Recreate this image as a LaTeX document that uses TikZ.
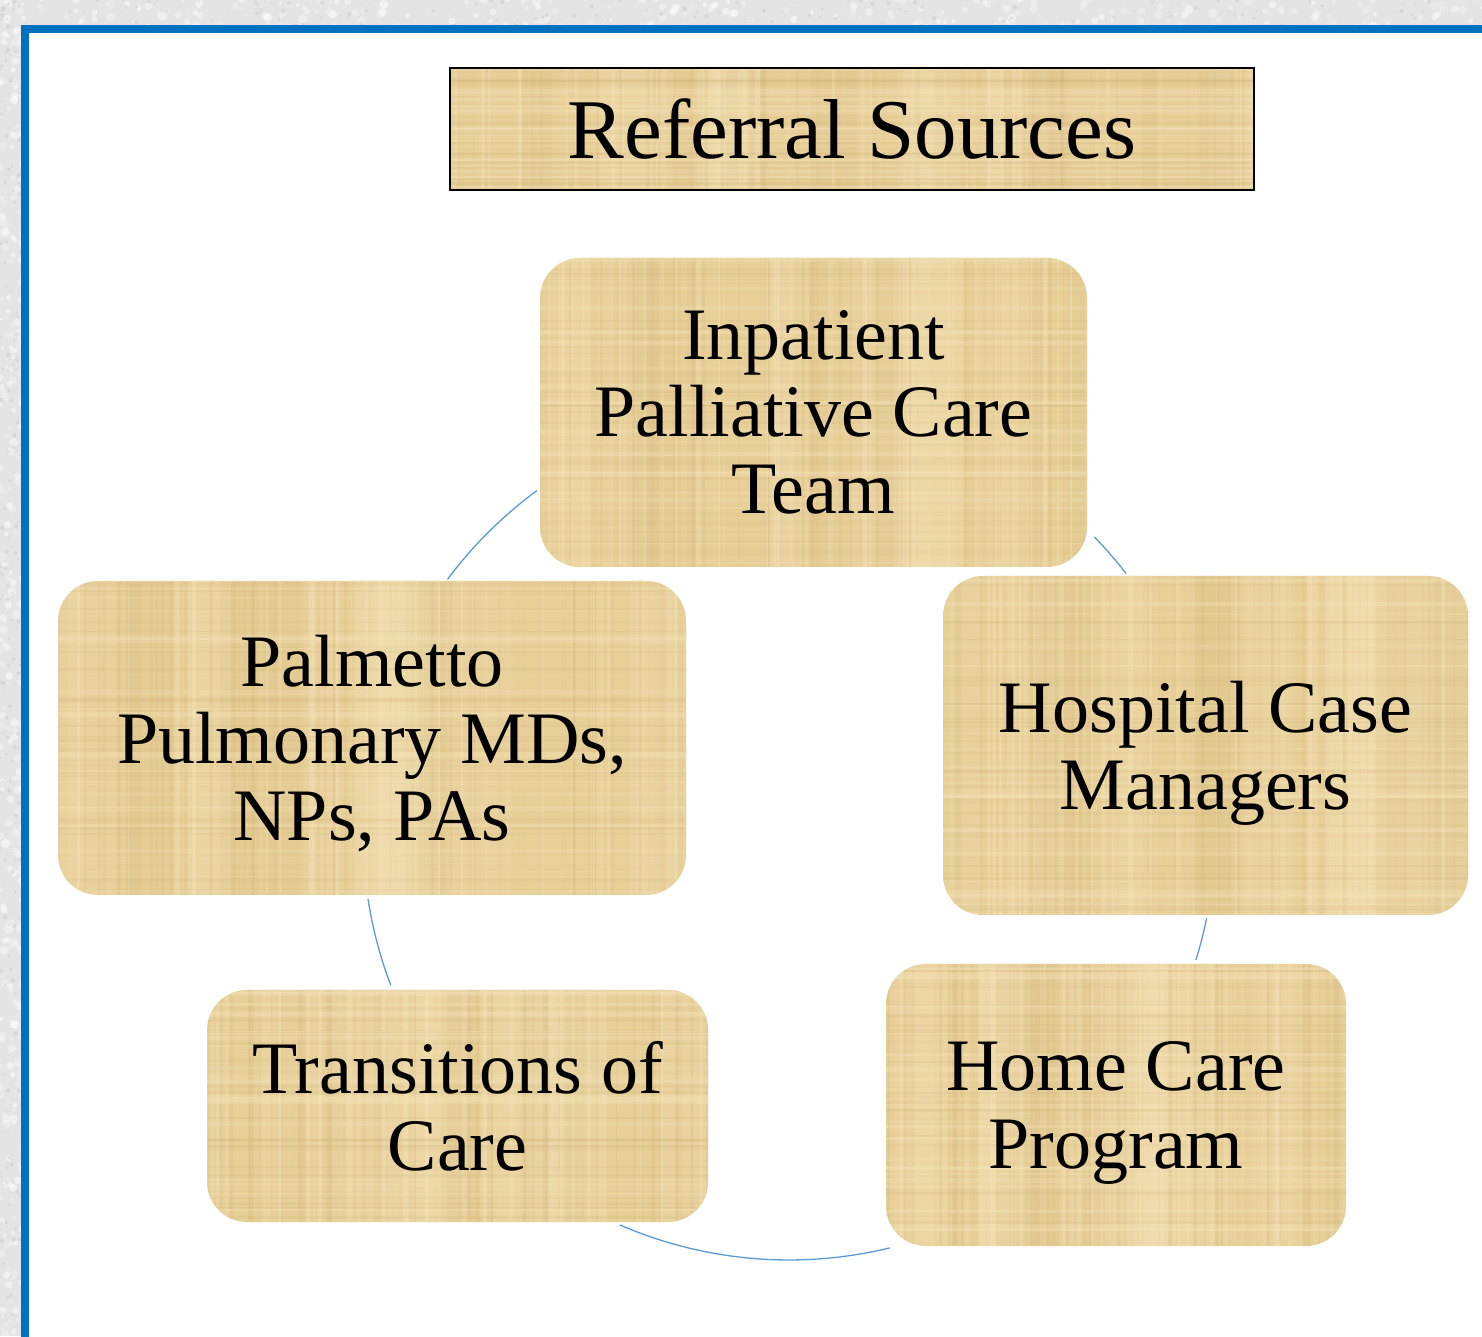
\documentclass[tikz,border=0pt]{standalone}
\usepackage{fontspec}
\setmainfont{Liberation Serif}
\usetikzlibrary{calc}

\definecolor{frameblue}{HTML}{0070C0}
\definecolor{linkblue}{HTML}{5B9BD5}
\definecolor{papyrus}{HTML}{E7CF98}
\definecolor{papdark}{HTML}{C4A262}
\definecolor{paplight}{HTML}{F7E7BE}
\definecolor{marble}{HTML}{E4E4E4}

% Random fibre strips that give the boxes a papyrus look
\newcommand{\papyrusfibres}{%
  \begin{scope}[sharp corners]
  \path (path picture bounding box.south west) coordinate (pp1)
        (path picture bounding box.north east) coordinate (pp2);
  \path (pp1 -| pp2) coordinate (pp3) (pp1 |- pp2) coordinate (pp4);
  \foreach \k in {1,...,12}{%
    \pgfmathsetmacro\papa{rnd}\pgfmathsetmacro\papw{15+55*rnd}\pgfmathsetmacro\papo{0.10+0.15*rnd}%
    \fill[paplight,opacity=\papo] ($(pp1)!\papa!(pp3)$) rectangle ++(\papw,2000);
  }
  \foreach \k in {1,...,8}{%
    \pgfmathsetmacro\papa{rnd}\pgfmathsetmacro\papw{10+40*rnd}\pgfmathsetmacro\papo{0.03+0.06*rnd}%
    \fill[papdark,opacity=\papo] ($(pp1)!\papa!(pp3)$) rectangle ++(\papw,2000);
  }
  \foreach \k in {1,...,60}{%
    \pgfmathsetmacro\papa{rnd}\pgfmathsetmacro\papw{1+3*rnd}\pgfmathsetmacro\papo{0.04+0.08*rnd}%
    \fill[papdark,opacity=\papo] ($(pp1)!\papa!(pp3)$) rectangle ++(\papw,2000);
  }
  \foreach \k in {1,...,40}{%
    \pgfmathsetmacro\papa{rnd}\pgfmathsetmacro\papw{1+4*rnd}\pgfmathsetmacro\papo{0.12+0.2*rnd}%
    \fill[paplight,opacity=\papo] ($(pp1)!\papa!(pp3)$) rectangle ++(\papw,2000);
  }
  \foreach \k in {1,...,40}{%
    \pgfmathsetmacro\papa{rnd}\pgfmathsetmacro\papw{1+3*rnd}\pgfmathsetmacro\papo{0.04+0.07*rnd}%
    \fill[papdark,opacity=\papo] ($(pp1)!\papa!(pp4)$) rectangle ++(2000,\papw);
  }
  \foreach \k in {1,...,30}{%
    \pgfmathsetmacro\papa{rnd}\pgfmathsetmacro\papw{1+4*rnd}\pgfmathsetmacro\papo{0.12+0.2*rnd}%
    \fill[paplight,opacity=\papo] ($(pp1)!\papa!(pp4)$) rectangle ++(2000,\papw);
  }
  \end{scope}
}

\tikzset{
  source/.style={rectangle, rounded corners=40, fill=papyrus, inner sep=0pt,
    align=center, text=black, text depth=0pt, font=\fontsize{74}{77}\selectfont,
    path picture={\papyrusfibres}},
  heading/.style={rectangle, fill=papyrus, draw=black, line width=1.6, inner sep=0pt,
    align=center, text=black, font=\fontsize{85}{90}\selectfont,
    path picture={\papyrusfibres}},
  link/.style={draw=linkblue, line width=1.3},
}

\begin{document}
\begin{tikzpicture}[x=1pt, y=1pt]
\useasboundingbox (0,0) rectangle (1482,1336);
\clip (0,0) rectangle (1482,1336);
\pgfmathsetseed{4217}

% marble surround
\fill[marble] (0,0) rectangle (1482,1336);
\foreach \k in {1,...,420}{%
  \pgfmathsetmacro\mg{rnd}%
  \fill[white, opacity=0.55*\mg] ({1482*rnd},{1300+40*rnd}) circle ({1.5+3*rnd});
}
\foreach \k in {1,...,420}{%
  \pgfmathsetmacro\mg{rnd}%
  \fill[white, opacity=0.55*\mg] ({25*rnd},{1336*rnd}) circle ({1.5+3*rnd});
}
\foreach \k in {1,...,200}{%
  \fill[black!25, opacity=0.35] ({1482*rnd},{1300+40*rnd}) circle ({0.8+1.5*rnd});
}
\foreach \k in {1,...,200}{%
  \fill[black!25, opacity=0.35] ({25*rnd},{1336*rnd}) circle ({0.8+1.5*rnd});
}

% slide area and its frame
\fill[white] (25,-20) rectangle (1500,1307);
\draw[frameblue, line width=8] (1500,1307) -- (25,1307) -- (25,-20);

% title
\node[heading, minimum width=804, minimum height=122] (title) at (852,1207) {Referral Sources};

% cycle of referral sources
\node[source, minimum width=547, minimum height=309] (inp) at (813.5,923.5) {Inpatient\\Palliative Care\\Team};
\node[source, minimum width=525, minimum height=339] (hcm) at (1205.5,590.5) {Hospital Case\\Managers};
\node[source, minimum width=460, minimum height=282] (hcp) at (1116,231) {Home Care\\Program};
\node[source, minimum width=501, minimum height=232] (toc) at (457.5,230) {Transitions of\\Care};
\node[source, minimum width=628, minimum height=314] (pal) at (372,598) {Palmetto\\Pulmonary MDs,\\NPs, PAs};

% connecting arcs on the common circle
\coordinate (hub) at (789,502);
\draw[link] ([shift={(44.2:426)}]hub) arc[start angle=44.2, end angle=37.7, radius=426];
\draw[link] ([shift={(-11.4:426)}]hub) arc[start angle=-11.4, end angle=-17.2, radius=426];
\draw[link] ([shift={(-76.3:426)}]hub) arc[start angle=-76.3, end angle=-113.4, radius=426];
\draw[link] ([shift={(-159.2:426)}]hub) arc[start angle=-159.2, end angle=-171.2, radius=426];
\draw[link] ([shift={(143.3:426)}]hub) arc[start angle=143.3, end angle=126.3, radius=426];
\end{tikzpicture}
\end{document}
